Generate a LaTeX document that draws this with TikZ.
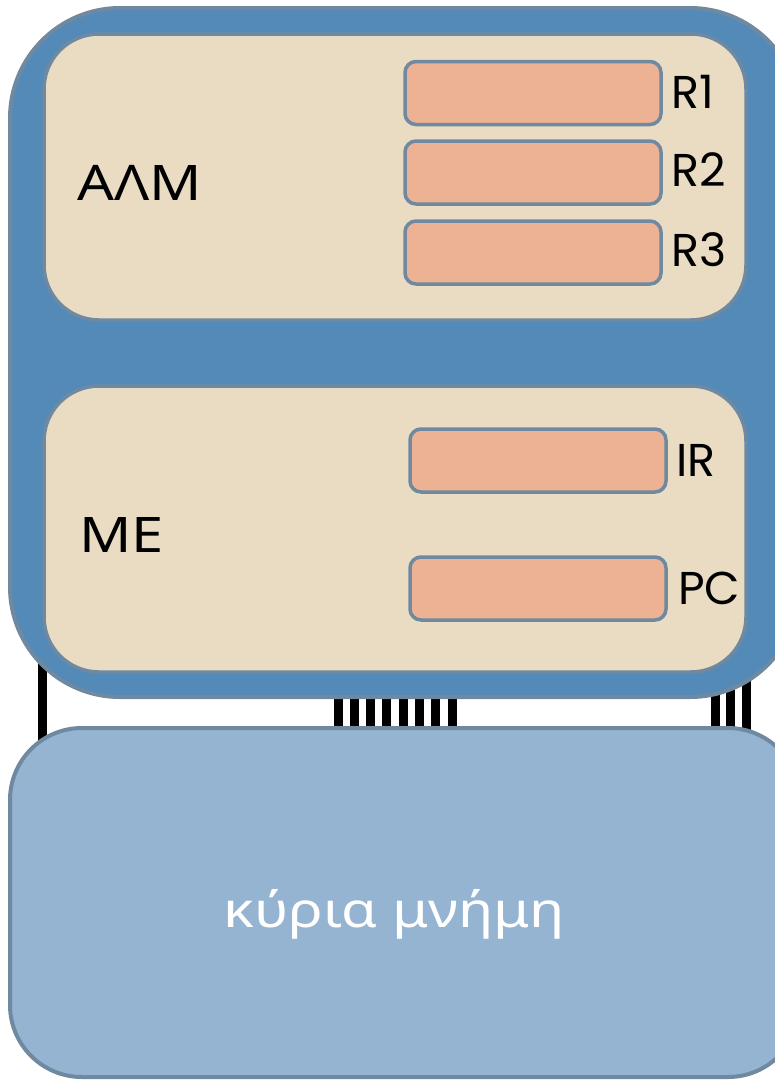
\documentclass[tikz,border=0pt]{standalone}
\usepackage{fontspec}
\setmainfont{Poppins}
\newfontfamily\grk[FakeStretch=1.18]{Noto Sans}
\definecolor{cpublue}{RGB}{84,138,184}
\definecolor{edgegray}{RGB}{111,137,160}
\definecolor{beige}{RGB}{233,220,195}
\definecolor{salmon}{RGB}{236,178,147}
\definecolor{memblue}{RGB}{149,180,210}
\begin{document}
\begin{tikzpicture}[x=1pt,y=-1pt,
  wire/.style={line width=9pt,black},
  cpubox/.style={draw=edgegray,line width=4pt,fill=cpublue,rounded corners=110pt,inner sep=0pt},
  unitbox/.style={draw=edgegray,line width=3.5pt,fill=beige,rounded corners=55pt,inner sep=0pt,minimum width=702pt,minimum height=286pt},
  regbox/.style={draw=edgegray,line width=3.5pt,fill=salmon,rounded corners=11pt,inner sep=0pt,minimum width=256pt,minimum height=63pt},
  membox/.style={draw=edgegray,line width=4pt,fill=memblue,rounded corners=72pt,inner sep=0pt},
  lbl/.style={anchor=west,font=\fontsize{46}{50}\selectfont,inner sep=0pt}]
\useasboundingbox (0,0) rectangle (775,1080);
% bus wires (behind boxes)
\coordinate (wl1) at (42,640); \coordinate (wl2) at (42,745);
\draw[wire] (wl1) -- (wl2);
\foreach \i in {0,...,7}{
  \coordinate (wm\i a) at ({338+16.3*\i},690);
  \coordinate (wm\i b) at ({338+16.3*\i},735);
  \draw[wire] (wm\i a) -- (wm\i b);
}
\foreach \x/\n in {715/1,730/2,746/3}{
  \coordinate (wr\n a) at (\x,640);
  \coordinate (wr\n b) at (\x,745);
  \draw[wire] (wr\n a) -- (wr\n b);
}
% CPU
\node[cpubox,minimum width=790pt,minimum height=689pt] (cpu) at (405,352.5) {};
\node[unitbox] (alm) at (395,177) {};
\node[unitbox] (me) at (395,529) {};
\node[regbox] (r1) at (533,93) {};
\node[regbox] (r2) at (533,172.5) {};
\node[regbox] (r3) at (533,252.5) {};
\node[regbox] (ir) at (538,460.5) {};
\node[regbox] (pc) at (538,588.5) {};
\node[lbl] (lr1) at (671,92) {R1};
\node[lbl] (lr2) at (671,170) {R2};
\node[lbl] (lr3) at (671,250) {R3};
\node[lbl] (lir) at (676,460) {IR};
\node[lbl] (lpc) at (678,588) {PC};
\node[lbl,font=\grk\fontsize{49}{52}\selectfont] (lalm) at (77,183) {ΑΛΜ};
\node[lbl,font=\grk\fontsize{49}{52}\selectfont] (lme) at (79,535) {ΜΕ};
% memory
\node[membox,minimum width=790pt,minimum height=349pt] (mem) at (405,902.5) {};
\node[text=white,font=\grk\fontsize{49}{52}\selectfont,inner sep=0pt] (lmem) at (394,914) {κύρια μνήμη};
\end{tikzpicture}
\end{document}
